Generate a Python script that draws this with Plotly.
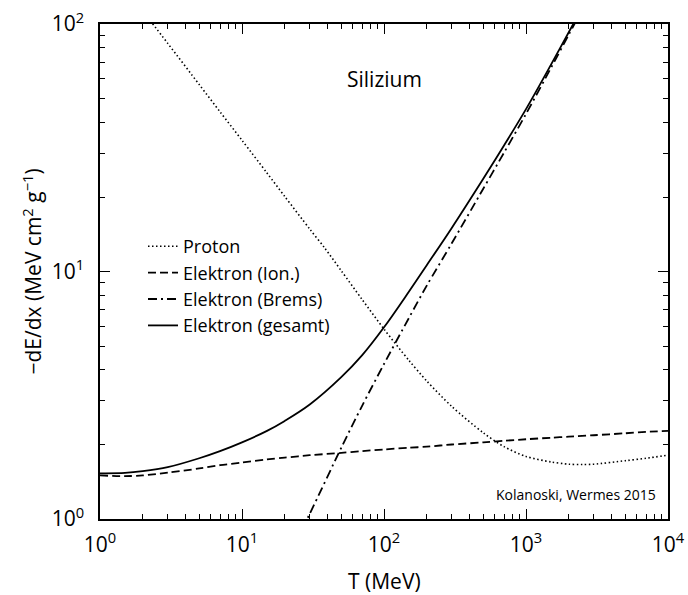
import plotly.graph_objects as go

# ---- data ----
T_proton = [2.0, 3.0, 5.0, 7.0, 10.0, 15.0, 20.0, 30.0, 38.4, 50.0, 70.0, 100.0, 150.0, 200.0,
            300.0, 500.0, 700.0, 1000.0, 1500.0, 2000.0, 2500.0, 3000.0, 5000.0, 7000.0, 10000.0]
dEdx_proton = [113.0, 83.5, 56.9, 44.2, 33.9, 25.0, 20.1, 14.85, 12.4, 10.07, 7.72, 5.85, 4.37, 3.61,
               2.85, 2.23, 1.96, 1.79, 1.70, 1.665, 1.66, 1.665, 1.72, 1.76, 1.81]

T_el = [1.0, 1.5, 2.0, 3.0, 5.0, 7.0, 10.0, 15.0, 20.0, 30.0, 50.0, 70.0, 100.0, 150.0, 200.0,
        300.0, 500.0, 700.0, 1000.0, 1500.0, 2000.0, 3000.0, 5000.0, 7000.0, 10000.0]
dEdx_ion = [1.50, 1.49, 1.50, 1.54, 1.60, 1.65, 1.69, 1.74, 1.77, 1.81, 1.85, 1.88, 1.91, 1.94, 1.96,
            2.00, 2.04, 2.07, 2.10, 2.13, 2.15, 2.18, 2.22, 2.25, 2.27]

T_brems = [20.0, 30.0, 50.0, 70.0, 100.0, 150.0, 200.0, 300.0, 500.0, 700.0, 1000.0, 1500.0, 2000.0, 3000.0]
dEdx_brems = [0.66, 1.05, 1.94, 2.86, 4.23, 6.5, 8.77, 13.0, 21.6, 30.2, 43.3, 66.5, 90.5, 140.0]

T_total = [1.0, 1.5, 2.0, 3.0, 5.0, 7.0, 10.0, 15.0, 20.0, 30.0, 50.0, 70.0, 100.0, 150.0, 200.0,
           300.0, 500.0, 700.0, 1000.0, 1500.0, 2000.0, 3000.0]
dEdx_total = [1.53, 1.535, 1.56, 1.62, 1.76, 1.88, 2.04, 2.27, 2.49, 2.90, 3.74, 4.58, 5.95, 8.3, 10.6,
              15.0, 23.7, 32.3, 45.3, 68.5, 92.6, 142.0]

x_tickvals = [1, 10, 100, 1000, 10000]
x_ticktext = ["10<sup>0</sup>", "10<sup>1</sup>", "10<sup>2</sup>", "10<sup>3</sup>", "10<sup>4</sup>"]
y_tickvals = [1, 10, 100]
y_ticktext = ["10<sup>0</sup>", "10<sup>1</sup>", "10<sup>2</sup>"]

names = ["Proton", "Elektron (Ion.)", "Elektron (Brems)", "Elektron (gesamt)"]
x_title = "T (MeV)"
y_title = "\u2212dE/dx (MeV cm<sup>2</sup> g<sup>\u22121</sup>)"

FONT = "Open Sans"

minor_x = [m * 10 ** k for k in range(0, 4) for m in range(2, 10)]
minor_y = [m * 10 ** k for k in range(0, 2) for m in range(2, 10)]

fig = go.Figure()
fig.add_trace(go.Scatter(x=T_proton, y=dEdx_proton, mode="lines", name=names[0],
                         line=dict(color="black", width=1.6, dash="1.5px,2.5px", shape="spline", smoothing=0.8),
                         legendgroup="a"))
fig.add_trace(go.Scatter(x=T_el, y=dEdx_ion, mode="lines", name=names[1],
                         line=dict(color="black", width=1.8, dash="8px,4px", shape="spline", smoothing=0.8),
                         legendgroup="b"))
fig.add_trace(go.Scatter(x=T_brems, y=dEdx_brems, mode="lines", name=names[2],
                         line=dict(color="black", width=1.8, dash="9px,4px,2px,4px", shape="spline", smoothing=0.8),
                         legendgroup="c"))
fig.add_trace(go.Scatter(x=T_total, y=dEdx_total, mode="lines", name=names[3],
                         line=dict(color="black", width=1.8, shape="spline", smoothing=1.0),
                         legendgroup="d"))

axis_common = dict(
    type="log", showline=True, linecolor="black", linewidth=1.5, mirror="allticks",
    ticks="inside", ticklen=10, tickwidth=1.2, tickcolor="black", showgrid=False, zeroline=False,
    tickfont=dict(family=FONT, size=21, color="black"), automargin=False,
)

fig.update_xaxes(**axis_common, range=[0, 4], tickvals=x_tickvals, ticktext=x_ticktext,
                 ticklabelstandoff=6,
                 minor=dict(tickvals=minor_x, ticks="inside", ticklen=5, tickwidth=1.2, tickcolor="black",
                            showgrid=False))
fig.update_yaxes(**axis_common, range=[0, 2], tickvals=y_tickvals, ticktext=y_ticktext,
                 ticklabelstandoff=10,
                 minor=dict(tickvals=minor_y, ticks="inside", ticklen=5, tickwidth=1.2, tickcolor="black",
                            showgrid=False))

# axis titles
fig.add_annotation(text=x_title, xref="paper", yref="paper", x=0.5, y=(519 - 581) / 495,
                   showarrow=False, font=dict(family=FONT, size=21, color="black"),
                   xanchor="center", yanchor="middle")
fig.add_annotation(text=y_title, xref="paper", yref="paper", x=(32 - 100) / 568, y=0.5, textangle=-90,
                   showarrow=False, font=dict(family=FONT, size=21, color="black"),
                   xanchor="center", yanchor="middle")

fig.add_annotation(text="Silizium", xref="paper", yref="paper", x=(384 - 100) / 568, y=(519 - 79) / 495,
                   showarrow=False, font=dict(family=FONT, size=21, color="black"), xanchor="center", yanchor="middle")
fig.add_annotation(text="Kolanoski, Wermes 2015", xref="paper", yref="paper", x=(658 - 100) / 568,
                   y=(519 - 494) / 495, showarrow=False, font=dict(family=FONT, size=14, color="black"),
                   xanchor="right", yanchor="middle")

fig.update_layout(
    width=688, height=595,
    margin=dict(l=100, r=20, t=24, b=76),
    paper_bgcolor="white", plot_bgcolor="white",
    font=dict(family=FONT, color="black"),
    showlegend=True,
    legend=dict(x=(143 - 100) / 568, y=(519 - 228) / 495, xanchor="left", yanchor="top",
                bgcolor="rgba(0,0,0,0)", font=dict(family=FONT, size=18, color="black"),
                tracegroupgap=0),
)

fig.write_html("out.html", config={"displayModeBar": False},
               post_script="document.body.style.margin='0px';document.body.style.overflow='hidden';")
